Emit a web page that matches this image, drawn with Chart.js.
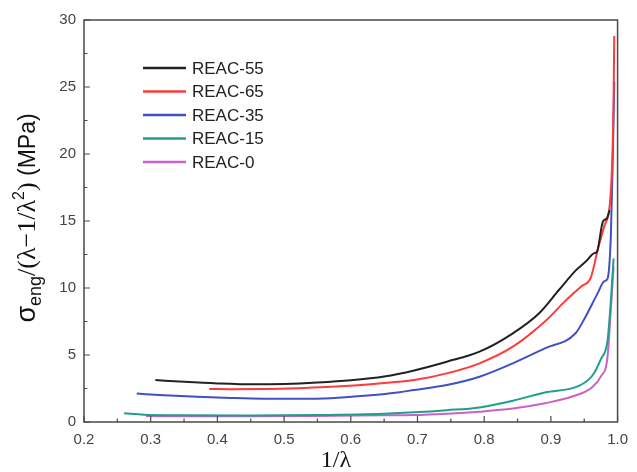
<!DOCTYPE html>
<html>
<head>
<meta charset="utf-8">
<script src="https://cdn.jsdelivr.net/npm/chart.js@4.4.1/dist/chart.umd.min.js"></script>
<style>
html,body{margin:0;padding:0;background:#fff;}
#wrap{width:637px;height:472px;position:relative;}
</style>
</head>
<body>
<div id="wrap"><canvas id="c" width="637" height="472"></canvas></div>
<script>
// ---- data ----
const seriesLabels = ["REAC-55", "REAC-65", "REAC-35", "REAC-15", "REAC-0"];
const seriesColors = ["#222222", "#ff3a3a", "#3f51c4", "#1f9e8e", "#c862c8"];

const reac55X = [0.307,0.35,0.40,0.455,0.50,0.55,0.60,0.65,0.695,0.744,0.793,0.843,0.882,0.912,0.937,0.952,0.965,0.969,0.978,0.984,0.988];
const reac55Y = [3.13,3.00,2.88,2.81,2.84,2.95,3.12,3.40,3.85,4.50,5.25,6.62,8.10,9.85,11.30,11.96,12.60,12.70,14.95,15.20,15.80];

const reac65X = [0.388,0.42,0.47,0.52,0.57,0.62,0.67,0.695,0.744,0.793,0.843,0.891,0.921,0.945,0.960,0.970,0.980,0.990,0.994,0.995];
const reac65Y = [2.46,2.45,2.46,2.52,2.63,2.78,3.00,3.13,3.63,4.38,5.62,7.50,9.00,10.10,10.80,12.80,14.60,17.30,24.00,28.80];

const reac35X = [0.279,0.32,0.37,0.42,0.47,0.52,0.57,0.62,0.67,0.695,0.744,0.793,0.843,0.891,0.937,0.952,0.970,0.980,0.985,0.990,0.993,0.995];
const reac35Y = [2.12,2.00,1.88,1.79,1.74,1.74,1.78,1.95,2.20,2.39,2.76,3.38,4.38,5.50,6.62,7.86,9.60,10.50,10.70,14.00,20.00,25.40];

const reac15X = [0.26,0.29,0.35,0.45,0.55,0.65,0.695,0.744,0.793,0.843,0.891,0.942,0.962,0.975,0.985,0.990,0.994];
const reac15Y = [0.65,0.55,0.50,0.48,0.52,0.62,0.72,0.88,1.09,1.59,2.20,2.70,3.45,4.70,6.10,9.10,12.20];

const reac0X = [0.293,0.35,0.45,0.55,0.65,0.695,0.744,0.793,0.843,0.891,0.932,0.962,0.975,0.985,0.990,0.994];
const reac0Y = [0.45,0.42,0.42,0.45,0.50,0.52,0.62,0.77,1.00,1.40,1.90,2.60,3.40,4.90,8.50,11.60];

const xTicks = [0.2,0.3,0.4,0.5,0.6,0.7,0.8,0.9,1.0];
const yTicks = [0,5,10,15,20,25,30];
const xTitle = "1/\u03bb";

// ---- build datasets ----
const xs = [reac55X, reac65X, reac35X, reac15X, reac0X];
const ys = [reac55Y, reac65Y, reac35Y, reac15Y, reac0Y];
const datasets = seriesLabels.map((lab, i) => ({
  label: lab,
  data: xs[i].map((x, j) => ({x: x, y: ys[i][j]})),
  borderColor: seriesColors[i],
  backgroundColor: seriesColors[i],
  borderWidth: 2,
  pointRadius: 0,
  showLine: true,
  fill: false,
  cubicInterpolationMode: 'monotone'
}));

const frameColor = "#4a4a4a";
const decor = {
  id: 'decor',
  afterDraw(chart) {
    const ctx = chart.ctx, a = chart.chartArea;
    const sx = chart.scales.x, sy = chart.scales.y;
    ctx.save();
    ctx.strokeStyle = frameColor;
    ctx.lineWidth = 1.5;
    ctx.strokeRect(a.left, a.top, a.right - a.left, a.bottom - a.top);
    ctx.lineWidth = 1.2;
    ctx.beginPath();
    for (let i = 0; i < xTicks.length; i++) {
      const px = sx.getPixelForValue(xTicks[i]);
      ctx.moveTo(px, a.bottom); ctx.lineTo(px, a.bottom - 6);
      if (i < xTicks.length - 1) {
        const pm = sx.getPixelForValue((xTicks[i] + xTicks[i+1]) / 2);
        ctx.moveTo(pm, a.bottom); ctx.lineTo(pm, a.bottom - 3.5);
      }
    }
    for (let i = 0; i < yTicks.length; i++) {
      const py = sy.getPixelForValue(yTicks[i]);
      ctx.moveTo(a.left, py); ctx.lineTo(a.left + 6, py);
      if (i < yTicks.length - 1) {
        const pm = sy.getPixelForValue((yTicks[i] + yTicks[i+1]) / 2);
        ctx.moveTo(a.left, pm); ctx.lineTo(a.left + 3.5, pm);
      }
    }
    ctx.stroke();

    // legend
    const lx0 = 143, lx1 = 186, tx = 192, ly0 = 68, ldy = 23.5;
    ctx.font = "17px 'Liberation Sans', Arial, sans-serif";
    ctx.textBaseline = 'middle';
    ctx.textAlign = 'left';
    chart.data.datasets.forEach((ds, i) => {
      const y = ly0 + i * ldy;
      ctx.strokeStyle = ds.borderColor;
      ctx.lineWidth = 2.5;
      ctx.beginPath(); ctx.moveTo(lx0, y); ctx.lineTo(lx1, y); ctx.stroke();
      ctx.fillStyle = '#222';
      ctx.fillText(ds.label, tx, y + 1);
    });

    // x title
    ctx.fillStyle = '#111';
    ctx.font = "24px 'Liberation Serif', 'Times New Roman', serif";
    ctx.textAlign = 'center';
    ctx.textBaseline = 'alphabetic';
    ctx.fillText(xTitle, 336, 467);

    // y title (rotated, with subscript and superscript)
    const parts = [
      {t: "\u03c3", f: "27px 'Liberation Sans', Arial, sans-serif", dy: 0},
      {t: "eng", f: "18px 'Liberation Sans', Arial, sans-serif", dy: 6},
      {t: "/(\u03bb\u22121/\u03bb", f: "26px 'Liberation Serif', 'Times New Roman', serif", dy: 0},
      {t: "2", f: "16px 'Liberation Sans', Arial, sans-serif", dy: -11},
      {t: ")", f: "26px 'Liberation Serif', 'Times New Roman', serif", dy: 0},
      {t: " (MPa)", f: "23px 'Liberation Sans', Arial, sans-serif", dy: 0}
    ];
    let total = 0;
    parts.forEach(p => { ctx.font = p.f; p.w = ctx.measureText(p.t).width; total += p.w; });
    ctx.translate(35, 218);
    ctx.rotate(-Math.PI / 2);
    ctx.textAlign = 'left';
    let cx = -total / 2;
    parts.forEach(p => { ctx.font = p.f; ctx.fillText(p.t, cx, p.dy); cx += p.w; });
    ctx.restore();
  }
};

new Chart(document.getElementById('c'), {
  type: 'scatter',
  data: {datasets: datasets},
  plugins: [decor],
  options: {
    responsive: false,
    animation: false,
    devicePixelRatio: 1,
    layout: {padding: {top: 20, right: 10, left: 0, bottom: 0}},
    plugins: {legend: {display: false}, tooltip: {enabled: false}},
    scales: {
      x: {
        type: 'linear', min: 0.2, max: 1.0,
        afterBuildTicks: s => { s.ticks = xTicks.map(v => ({value: v})); },
        afterFit: s => { s.height = 50; },
        grid: {display: false, drawTicks: false},
        border: {display: false},
        ticks: {padding: 9, color: '#444', font: {family: "'Liberation Sans', Arial, sans-serif", size: 15},
                callback: v => v.toFixed(1), maxRotation: 0, autoSkip: false}
      },
      y: {
        type: 'linear', min: 0, max: 30,
        afterBuildTicks: s => { s.ticks = yTicks.map(v => ({value: v})); },
        afterFit: s => { s.width = 84; },
        grid: {display: false, drawTicks: false},
        border: {display: false},
        ticks: {padding: 8, color: '#444', font: {family: "'Liberation Sans', Arial, sans-serif", size: 15},
                callback: v => String(v), autoSkip: false}
      }
    }
  }
});
</script>
</body>
</html>
